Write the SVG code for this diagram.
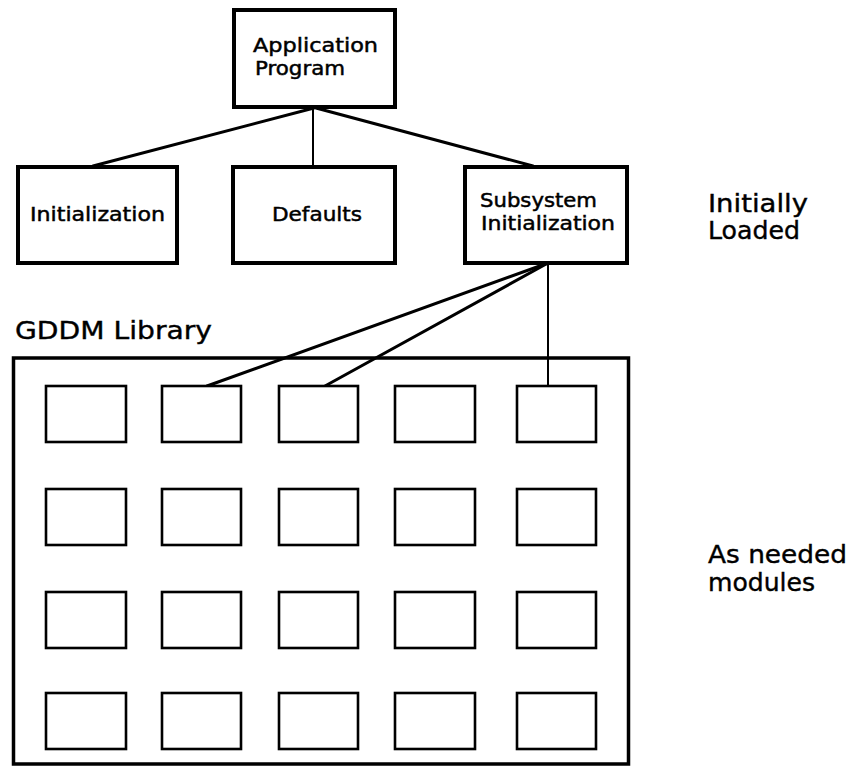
<svg xmlns="http://www.w3.org/2000/svg" width="850" height="767" viewBox="0 0 850 767">
<style>
.box{fill:#fff;stroke:#000;stroke-width:4}
.mod{fill:#fff;stroke:#000;stroke-width:2.6}
.lib{fill:none;stroke:#000;stroke-width:3.5}
.c{stroke:#000;stroke-width:3;fill:none;stroke-linecap:round}
.cv{stroke:#000;stroke-width:2;fill:none}
.t{font-family:"DejaVu Sans",sans-serif;font-size:20px;fill:#000;stroke:#000;stroke-width:0.5}
.s{font-family:"DejaVu Sans",sans-serif;font-size:25px;fill:#000;stroke:#000;stroke-width:0.4}
</style>
<rect width="850" height="767" fill="#fff"/>
<g id="connectors">
<line class="c" x1="314" y1="108" x2="93" y2="166"/>
<line class="cv" x1="313" y1="108" x2="313" y2="166"/>
<line class="c" x1="316" y1="108" x2="533" y2="166"/>
<line class="c" x1="548" y1="263" x2="207" y2="386"/>
<line class="c" x1="548" y1="263" x2="325" y2="386"/>
<line class="cv" x1="548" y1="263" x2="548" y2="386"/>
</g>
<g id="app">
<rect class="box" x="234" y="10" width="161" height="97"/>
<text class="t" x="253" y="52" font-size="19" textLength="125" lengthAdjust="spacingAndGlyphs">Application</text>
<text class="t" x="255" y="75" font-size="19" textLength="90" lengthAdjust="spacingAndGlyphs">Program</text>
</g>
<g id="init">
<rect class="box" x="18" y="167" width="159" height="96"/>
<text class="t" x="30" y="221" textLength="135" lengthAdjust="spacingAndGlyphs">Initialization</text>
</g>
<g id="defaults">
<rect class="box" x="233" y="167" width="162" height="96"/>
<text class="t" x="272" y="221" textLength="90" lengthAdjust="spacingAndGlyphs">Defaults</text>
</g>
<g id="subsys">
<rect class="box" x="465" y="167" width="162" height="96"/>
<text class="t" x="480" y="207" textLength="117" lengthAdjust="spacingAndGlyphs">Subsystem</text>
<text class="t" x="481" y="230" textLength="134" lengthAdjust="spacingAndGlyphs">Initialization</text>
</g>
<g id="labels">
<text class="s" x="708" y="212" textLength="100" lengthAdjust="spacingAndGlyphs">Initially</text>
<text class="s" x="708" y="239" textLength="92" lengthAdjust="spacingAndGlyphs">Loaded</text>
<text class="s" x="15" y="339" textLength="197" lengthAdjust="spacingAndGlyphs">GDDM Library</text>
<text class="s" x="708" y="563" textLength="139" lengthAdjust="spacingAndGlyphs">As needed</text>
<text class="s" x="708" y="591" textLength="107" lengthAdjust="spacingAndGlyphs">modules</text>
</g>
<g id="library">
<rect class="lib" x="13.5" y="358" width="615" height="406"/>
</g>
<g id="modules">
<rect class="mod" x="46" y="386" width="80" height="56"/>
<rect class="mod" x="162" y="386" width="79" height="56"/>
<rect class="mod" x="279" y="386" width="79" height="56"/>
<rect class="mod" x="395" y="386" width="80" height="56"/>
<rect class="mod" x="517" y="386" width="79" height="56"/>
<rect class="mod" x="46" y="489" width="80" height="56"/>
<rect class="mod" x="162" y="489" width="79" height="56"/>
<rect class="mod" x="279" y="489" width="79" height="56"/>
<rect class="mod" x="395" y="489" width="80" height="56"/>
<rect class="mod" x="517" y="489" width="79" height="56"/>
<rect class="mod" x="46" y="592" width="80" height="56"/>
<rect class="mod" x="162" y="592" width="79" height="56"/>
<rect class="mod" x="279" y="592" width="79" height="56"/>
<rect class="mod" x="395" y="592" width="80" height="56"/>
<rect class="mod" x="517" y="592" width="79" height="56"/>
<rect class="mod" x="46" y="693" width="80" height="56"/>
<rect class="mod" x="162" y="693" width="79" height="56"/>
<rect class="mod" x="279" y="693" width="79" height="56"/>
<rect class="mod" x="395" y="693" width="80" height="56"/>
<rect class="mod" x="517" y="693" width="79" height="56"/>
</g>
</svg>
